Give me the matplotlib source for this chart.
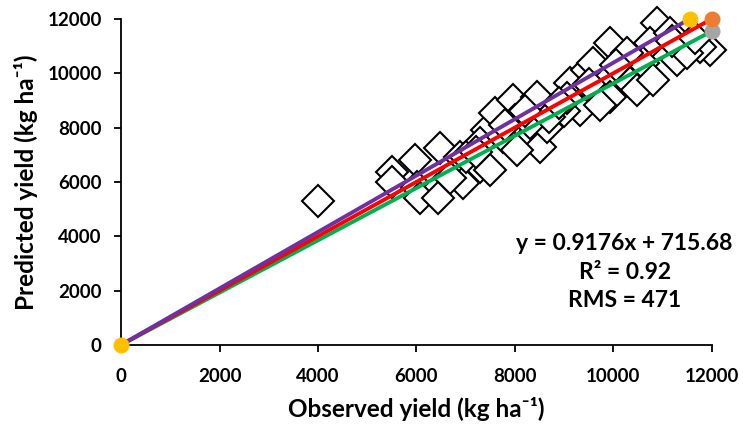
import matplotlib.pyplot as plt
import numpy as np

plt.rcParams['font.family'] = ['Lato', 'DejaVu Sans']
plt.rcParams['font.weight'] = 'bold'

# observed vs predicted yield (kg/ha)
observed = [4000, 5500, 5500, 5970, 6480, 6010, 6420, 6880, 6940, 7290, 7490, 7430, 7290, 6680, 6070, 6440,
            7590, 7960, 8450, 8000, 7760, 8510, 8040, 8850, 9320, 9120, 9460, 8650, 8300,
            9930, 10880, 10740, 11150, 11290, 11960, 11760, 10600, 10270, 10340, 9790, 9930, 10480,
            11490, 10800, 9580, 9730, 9000, 8700,
            7000, 7200, 8200, 9050, 9500, 10050, 11200, 11650, 7800, 8900]
predicted = [5300, 6370, 6000, 6810, 7250, 5820, 5710, 6920, 5960, 6550, 6440, 7910, 7440, 6150, 5410, 5410,
             8540, 9020, 9130, 8280, 7660, 7290, 7180, 8540, 8650, 9640, 10120, 8020, 8170,
             11120, 11850, 11120, 11480, 10490, 10860, 10970, 10380, 10750, 9640, 9860, 9130, 9390,
             10750, 9750, 10380, 8830, 8600, 8400,
             6900, 7100, 8600, 9100, 9600, 10300, 11200, 11300, 8100, 8900]

# reference lines: start and end points
line_x = {"upper": [0, 11550], "one": [0, 12000], "lower": [0, 12000]}
line_y = {"upper": [0, 12000], "one": [0, 12000], "lower": [0, 11550]}
line_colors = {"upper": "#7030A0", "one": "#FF0000", "lower": "#00B050"}
end_colors = {"upper": "#FFC000", "one": "#ED7D31", "lower": "#A5A5A5"}

ticks = [0, 2000, 4000, 6000, 8000, 10000, 12000]

fig = plt.figure(figsize=(7.43, 4.30), dpi=100)
ax = fig.add_axes([0.163, 0.198, 0.795, 0.758])

ax.plot(observed, predicted, linestyle="none", marker="D", ms=16, mfc="white",
        mec="black", mew=1.5, zorder=2, clip_on=False)

for k in ["lower", "one", "upper"]:
    ax.plot(line_x[k], line_y[k], color=line_colors[k], lw=2.8, zorder=3,
            solid_capstyle="butt", clip_on=False)
for k in ["lower", "one", "upper"]:
    ax.plot(line_x[k][1], line_y[k][1], "o", color=end_colors[k], ms=10.5, zorder=4, clip_on=False)
ax.plot(0, 0, "o", color="#FFC000", ms=10.5, zorder=4, clip_on=False)

ax.set_xlim(0, 12000)
ax.set_ylim(0, 12000)
ax.set_xticks(ticks)
ax.set_yticks(ticks)
ax.tick_params(labelsize=13.5, width=1.3, length=5, pad=12)
ax.tick_params(axis="y", pad=9)
for lab in ax.get_xticklabels() + ax.get_yticklabels():
    lab.set_fontweight("bold")

for s in ["top", "right"]:
    ax.spines[s].set_visible(False)
for s in ["left", "bottom"]:
    ax.spines[s].set_linewidth(1.3)

ax.set_xlabel("Observed yield (kg ha⁻¹)", fontsize=17.5, fontweight="bold", labelpad=8)
ax.set_ylabel("Predicted yield (kg ha⁻¹)", fontsize=17.5, fontweight="bold", labelpad=7)

ax.text(10230, 2680, "y = 0.9176x + 715.68\nR² = 0.92\nRMS = 471", ha="center", va="center",
        fontsize=16.5, fontweight="bold", linespacing=1.45, zorder=5)

fig.savefig("out.png", dpi=100)
